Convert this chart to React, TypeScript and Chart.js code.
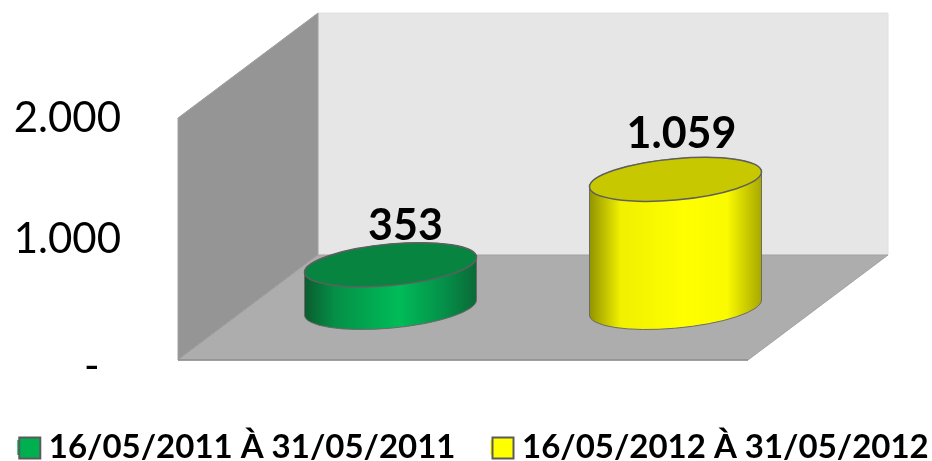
import React, { useEffect, useRef } from "react";
import { Chart, registerables } from "chart.js";

Chart.register(...registerables);

const categories = [""];
const periods = ["16/05/2011 À 31/05/2011", "16/05/2012 À 31/05/2012"];
const values = [353, 1059];
const valueLabels = ["353", "1.059"];
const tickValues = [0, 1000, 2000];
const tickLabels = ["-", "1.000", "2.000"];
const barColors = ["#00b050", "#ffff00"];
const topColors = ["#078540", "#c8c800"];
const sideStops = [
  ["#0a5c2e", "#049047", "#00bc58", "#04924a", "#0b6a36"],
  ["#939300", "#f0f000", "#ffff00", "#fafa00", "#a8a800"],
];
const labelShift = [15, 6];
const labelLift = [25, 31];

const FONT = "Lato, Carlito, 'Open Sans', sans-serif";
const DX = 140;
const DY = 105;

function poly(ctx: CanvasRenderingContext2D, pts: number[][], fill: string, stroke: string) {
  ctx.beginPath();
  pts.forEach((p, i) => (i ? ctx.lineTo(p[0], p[1]) : ctx.moveTo(p[0], p[1])));
  ctx.closePath();
  ctx.fillStyle = fill;
  ctx.fill();
  ctx.strokeStyle = stroke;
  ctx.lineWidth = 1;
  ctx.stroke();
}

const scene = {
  id: "scene3d",
  beforeDatasetsDraw(chart: any) {
    const { ctx, chartArea: a } = chart;
    const { left: L, right: R, top: T, bottom: B } = a;
    poly(ctx, [[L + DX, T - DY], [R + DX, T - DY], [R + DX, B - DY], [L + DX, B - DY]], "#e6e6e6", "#e0e0e0");
    poly(ctx, [[L, B], [L, T], [L + DX, T - DY], [L + DX, B - DY]], "#959595", "#a0a0a0");
    poly(ctx, [[L, B], [L + DX, B - DY], [R + DX, B - DY], [R, B]], "#adadad", "#a2a2a2");
    ctx.strokeStyle = "#8f8f8f";
    ctx.lineWidth = 1.5;
    ctx.beginPath();
    ctx.moveTo(L, B);
    ctx.lineTo(R, B);
    ctx.stroke();
  },
  beforeDatasetDraw(chart: any, args: any) {
    const i = args.index;
    const { ctx } = chart;
    const bar = chart.getDatasetMeta(i).data[0];
    const a = bar.width / 2;
    const cx = bar.x + DX / 2;
    const baseY = bar.base - DY / 2;
    const topY = bar.y - DY / 2;
    const s = 7.5;
    const b = 20.7;

    const g = ctx.createLinearGradient(cx - a, 0, cx + a, 0);
    const pos = [0, 0.18, 0.55, 0.8, 1];
    sideStops[i].forEach((c, k) => g.addColorStop(pos[k], c));

    ctx.save();
    ctx.beginPath();
    ctx.save();
    ctx.transform(1, -s / a, 0, 1, cx, baseY);
    ctx.ellipse(0, 0, a, b, 0, Math.PI, 0, true);
    ctx.restore();
    ctx.save();
    ctx.transform(1, -s / a, 0, 1, cx, topY);
    ctx.ellipse(0, 0, a, b, 0, 0, Math.PI, true);
    ctx.restore();
    ctx.closePath();
    ctx.fillStyle = g;
    ctx.fill();
    ctx.strokeStyle = "#6a6a6a";
    ctx.lineWidth = 1;
    ctx.stroke();

    ctx.beginPath();
    ctx.save();
    ctx.transform(1, -s / a, 0, 1, cx, topY);
    ctx.ellipse(0, 0, a, b, 0, 0, Math.PI * 2);
    ctx.restore();
    ctx.fillStyle = topColors[i];
    ctx.fill();
    ctx.strokeStyle = "#5f5f5f";
    ctx.lineWidth = 1.5;
    ctx.stroke();

    ctx.fillStyle = "#000000";
    ctx.font = `bold 43px ${FONT}`;
    ctx.textAlign = "center";
    ctx.textBaseline = "alphabetic";
    ctx.fillText(valueLabels[i], cx + labelShift[i], topY - labelLift[i]);
    ctx.restore();
    return false;
  },
  afterDraw(chart: any) {
    const { ctx } = chart;
    const boxes = chart.legend?.legendHitBoxes || [];
    boxes.forEach((h: any, i: number) => {
      ctx.fillStyle = barColors[i];
      ctx.strokeStyle = "#5a5a5a";
      ctx.lineWidth = 2;
      const y = h.top + h.height / 2 - 10;
      ctx.fillRect(h.left + 2, y, 21, 21);
      ctx.strokeRect(h.left + 2, y, 21, 21);
    });
  },
};

export default function App() {
  const ref = useRef<HTMLCanvasElement>(null);
  useEffect(() => {
    document.body.style.margin = "0";
    const chart = new Chart(ref.current!, {
      type: "bar",
      data: {
        labels: categories,
        datasets: periods.map((p, i) => ({
          label: p,
          data: [values[i]],
          backgroundColor: barColors[i],
          borderWidth: 0,
          barPercentage: 0.6035,
          categoryPercentage: 1,
        })),
      },
      plugins: [scene],
      options: {
        animation: false,
        responsive: false,
        layout: { padding: { top: 118, left: -20, right: -34, bottom: -13 } },
        plugins: {
          tooltip: { enabled: false },
          legend: {
            position: "bottom",
            labels: {
              boxWidth: 15,
              boxHeight: 15,
              padding: 35,
              color: "#000000",
              font: { family: FONT, size: 33, weight: "bold" },
            },
          },
        },
        scales: {
          x: {
            display: true,
            grid: { display: false },
            border: { display: false },
            ticks: { display: false },
            afterFit: (s: any) => { s.height = 36; },
          },
          y: {
            min: 0,
            max: 2000,
            afterBuildTicks: (s: any) => { s.ticks = tickValues.map((v) => ({ value: v })); },
            afterFit: (s: any) => { s.width = 198; },
            grid: { display: false },
            border: { display: false },
            ticks: {
              padding: 49,
              color: "#000000",
              font: (c: any) =>
                c.tick && c.tick.value === 0
                  ? { family: FONT, size: 42, lineHeight: "12px" }
                  : { family: FONT, size: 42 },
              callback: (v: any) => {
                const label = tickLabels[tickValues.indexOf(Number(v))];
                return Number(v) === 0 ? ["", label + "  "] : label;
              },
            },
          },
          yr: {
            position: "right",
            display: true,
            grid: { display: false },
            border: { display: false },
            ticks: { display: false },
            afterFit: (s: any) => { s.width = 218; },
          },
        },
      } as any,
    });
    return () => chart.destroy();
  }, []);
  return (
    <div style={{ position: "absolute", left: 0, top: 0, width: 932, height: 461, background: "#fff" }}>
      <canvas ref={ref} width={932} height={461} style={{ display: "block" }} />
    </div>
  );
}
